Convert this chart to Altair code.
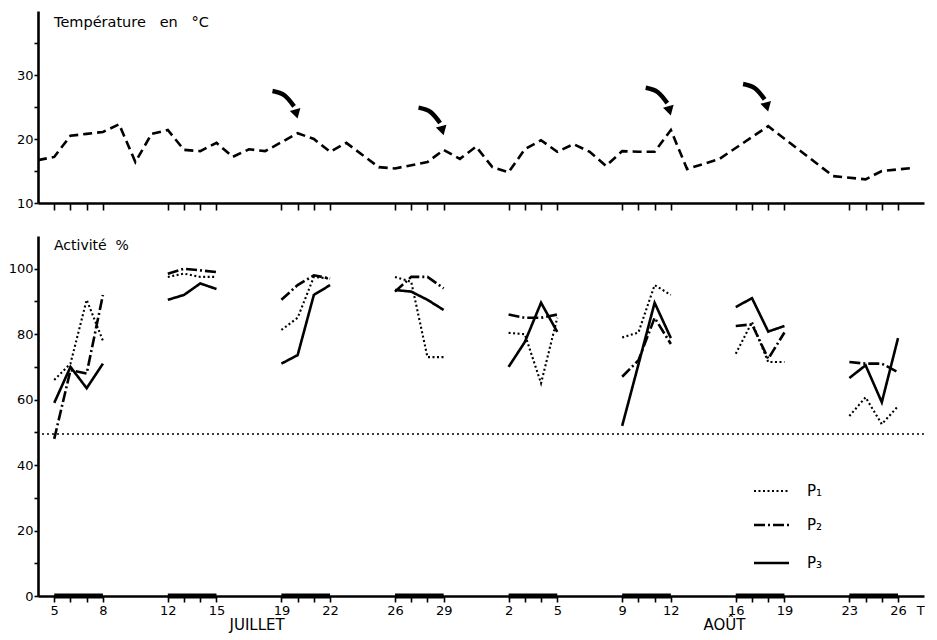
import altair as alt
import pandas as pd

# ---------------- data ----------------
# day index: 0 = 5 July, 26 = 31 July, 28 = 2 August ...
temp_days = [-1, 0, 1, 2, 3, 4, 5, 6, 7, 8, 9, 10, 11, 12, 13, 15, 16, 17, 18, 20,
             21, 23, 24, 25, 26, 27, 28, 29, 30, 31, 32, 33, 34, 35, 36, 37, 38, 39, 41, 44,
             48, 50, 51, 53]
temp_vals = [16.7, 17.2, 20.5, 20.8, 21.1, 22.3, 16.4, 20.8, 21.4, 18.3, 18.1, 19.4, 17.2, 18.4, 18.1, 20.9, 20.0, 18.0, 19.4, 15.6,
             15.4, 16.4, 18.3, 16.9, 18.8, 15.6, 14.8, 18.4, 19.8, 18.0, 19.2, 18.0, 15.8, 18.1, 18.0, 18.0, 21.4, 15.3, 16.9, 22.0,
             14.2, 13.7, 15.0, 15.5]

arrow_days = [15, 24, 38, 44]

act_days = [0, 1, 2, 3, 7, 8, 9, 10, 14, 15, 16, 17, 21, 22, 23, 24,
            28, 29, 30, 31, 35, 36, 37, 38, 42, 43, 44, 45, 49, 50, 51, 52]
act_group = [1, 1, 1, 1, 2, 2, 2, 2, 3, 3, 3, 3, 4, 4, 4, 4,
             5, 5, 5, 5, 6, 6, 6, 6, 7, 7, 7, 7, 8, 8, 8, 8]
p1 = [66, 71, 90.5, 78, 97.5, 98.5, 97.5, 97.5, 81.3, 85, 97.5, 97, 97.5, 96, 73, 73,
      80.4, 80, 65, 85, 79, 80.5, 95, 92, 74, 83.7, 71.5, 71.5, 55, 60.7, 52.5, 58]
p2 = [48, 69, 68, 92, 98.5, 100, 99.5, 99, 90.5, 95, 98, 97, 93, 97.5, 97.5, 94,
      86, 85, 85, 86, 67, 72, 85, 77, 82.5, 83, 72.5, 80.5, 71.5, 71, 71, 68.4]
p3 = [59, 70, 63.5, 71, 90.5, 92, 95.5, 93.8, 71, 73.6, 92, 95, 93.5, 93, 90.5, 87.4,
      70, 77.6, 89.6, 80.7, 52, 70.7, 89.6, 78.8, 88.3, 91, 80.8, 82.5, 66.6, 70.5, 59.2, 78.8]
series_names = ["P₁", "P₂", "P₃"]

threshold = 49.5
bar_start = [0, 7, 14, 21, 28, 35, 42, 49]
bar_end = [3, 10, 17, 24, 31, 38, 45, 52]

x_label_days = [0, 3, 7, 10, 14, 17, 21, 24, 28, 31, 35, 38, 42, 45, 49, 52]
x_label_text = ["5", "8", "12", "15", "19", "22", "26", "29", "2", "5", "9", "12", "16", "19", "23", "26"]
month_names = ["JUILLET", "AOÛT"]
month_days = [12.5, 41.3]
end_label = "T"
end_label_day = 53.4

# ---------------- layout / style ----------------
W = 886
H1 = 192
H2 = 360
X_DOMAIN = [-1, 53.6]
FONT = "DejaVu Sans"
INK = "black"
NB = "\u00a0"

xscale = alt.Scale(domain=X_DOMAIN, nice=False, zero=False)
tscale = alt.Scale(domain=[10, 40], nice=False, zero=False)
ascale = alt.Scale(domain=[0, 110], nice=False, zero=False)

axis_common = dict(title=None, grid=False, domainColor=INK, tickColor=INK,
                   domainWidth=2.6, tickWidth=1.6, labelColor=INK,
                   labelFont=FONT, labelFontSize=13)

top_x_axis = alt.Axis(values=act_days, labels=False, tickSize=7, **axis_common)
top_y_axis = alt.Axis(values=[10, 15, 20, 25, 30, 35], tickSize=4, labelPadding=1,
                      labelExpr="datum.value % 10 == 0 ? datum.label : ''", **axis_common)

lab_days_js = "[" + ",".join(str(d) for d in x_label_days) + "]"
lab_txt_js = "[" + ",".join("'" + t + "'" for t in x_label_text) + "]"
bot_x_axis = alt.Axis(values=act_days, tickSize=6, labelPadding=2, labelFlush=False,
                      labelExpr=f"indexof({lab_days_js}, datum.value) >= 0 ? {lab_txt_js}[indexof({lab_days_js}, datum.value)] : ''",
                      **axis_common)
bot_y_axis = alt.Axis(values=[0, 10, 20, 30, 40, 50, 60, 70, 80, 90, 100], tickSize=4, labelPadding=1,
                      labelExpr="datum.value % 20 == 0 ? datum.label : ''", **axis_common)

# ---------------- top panel: temperature ----------------
temp_df = pd.DataFrame({"day": temp_days, "temp": temp_vals})
temp_line = alt.Chart(temp_df).mark_line(color=INK, strokeDash=[9, 5], strokeWidth=2.6).encode(
    x=alt.X("day:Q", scale=xscale, axis=top_x_axis),
    y=alt.Y("temp:Q", scale=tscale, axis=top_y_axis),
)

lookup = dict(zip(temp_days, temp_vals))
ARROW_PATH = [(-1.55, 6.6), (-0.8, 5.9), (-0.22, 4.2)]
ARROW_HEAD = (-0.08, 3.0)
arrow_rows, head_rows = [], []
for i, d in enumerate(arrow_days):
    t = lookup[d]
    for k, (dx, dy) in enumerate(ARROW_PATH):
        arrow_rows.append({"id": i, "ord": k, "day": d + dx, "temp": t + dy})
    head_rows.append({"id": i, "day": d + ARROW_HEAD[0], "temp": t + ARROW_HEAD[1]})
arrow_df = pd.DataFrame(arrow_rows)
head_df = pd.DataFrame(head_rows)

arrow_lines = alt.Chart(arrow_df).mark_line(color=INK, strokeWidth=4.5, interpolate="monotone", strokeCap="butt").encode(
    x=alt.X("day:Q", scale=xscale, axis=top_x_axis),
    y=alt.Y("temp:Q", scale=tscale, axis=top_y_axis),
    detail="id:N",
    order="ord:Q",
)
arrow_heads = alt.Chart(head_df).mark_point(shape="triangle-down", filled=True, color=INK, size=120, angle=345, opacity=1).encode(
    x=alt.X("day:Q", scale=xscale, axis=top_x_axis),
    y=alt.Y("temp:Q", scale=tscale, axis=top_y_axis),
)
top_title = alt.Chart(pd.DataFrame({"t": ["Température" + NB * 3 + "en" + NB * 3 + "°C"]})).mark_text(
    align="left", baseline="middle", font=FONT, fontSize=14.5, color=INK
).encode(text="t:N", x=alt.value(16), y=alt.value(12))

top = alt.layer(temp_line, arrow_lines, arrow_heads, top_title).properties(width=W, height=H1)

# ---------------- bottom panel: activity ----------------
styles = {
    "P₁": dict(strokeDash=[2, 2.5], strokeWidth=2.1),
    "P₂": dict(strokeDash=[11, 3, 2, 3], strokeWidth=2.6),
    "P₃": dict(strokeDash=[1, 0], strokeWidth=2.6),
}
series_vals = dict(zip(series_names, [p1, p2, p3]))

layers = []
for name in series_names:
    df = pd.DataFrame({"day": act_days, "val": series_vals[name], "grp": act_group})
    layers.append(
        alt.Chart(df).mark_line(color=INK, **styles[name]).encode(
            x=alt.X("day:Q", scale=xscale, axis=bot_x_axis),
            y=alt.Y("val:Q", scale=ascale, axis=bot_y_axis),
            detail="grp:N",
        )
    )

bars_df = pd.DataFrame({"s": bar_start, "e": bar_end, "y": [0] * len(bar_start)})
bars = alt.Chart(bars_df).mark_rule(color=INK, strokeWidth=5).encode(
    x=alt.X("s:Q", scale=xscale, axis=bot_x_axis),
    x2="e:Q",
    y=alt.Y("y:Q", scale=ascale, axis=bot_y_axis),
)

thr = alt.Chart(pd.DataFrame({"v": [threshold]})).mark_rule(color=INK, strokeDash=[2, 3], strokeWidth=1.5).encode(
    y=alt.Y("v:Q", scale=ascale, axis=bot_y_axis)
)

bot_title = alt.Chart(pd.DataFrame({"t": ["Activité" + NB * 2 + "%"]})).mark_text(
    align="left", baseline="middle", font=FONT, fontSize=14, color=INK
).encode(text="t:N", x=alt.value(16), y=alt.value(10))

# legend (custom)
LEG_X0, LEG_X1, LEG_TX = 716, 751, 769
LEG_Y = [255, 289, 327]
legend_layers = []
for name, ly in zip(series_names, LEG_Y):
    legend_layers.append(
        alt.Chart(pd.DataFrame({"n": [name]})).mark_rule(color=INK, **styles[name]).encode(
            x=alt.value(LEG_X0), x2=alt.value(LEG_X1), y=alt.value(ly)
        )
    )
    legend_layers.append(
        alt.Chart(pd.DataFrame({"n": [name]})).mark_text(
            align="left", baseline="middle", font=FONT, fontSize=15, color=INK
        ).encode(text="n:N", x=alt.value(LEG_TX), y=alt.value(ly))
    )

months = alt.Chart(pd.DataFrame({"m": month_names, "day": month_days})).mark_text(
    align="center", baseline="middle", font=FONT, fontSize=15, color=INK
).encode(x=alt.X("day:Q", scale=xscale, axis=bot_x_axis), text="m:N", y=alt.value(H2 + 29))

tlabel = alt.Chart(pd.DataFrame({"m": [end_label], "day": [end_label_day]})).mark_text(
    align="center", baseline="middle", font=FONT, fontSize=13, color=INK
).encode(x=alt.X("day:Q", scale=xscale, axis=bot_x_axis), text="m:N", y=alt.value(H2 + 15))

bottom = alt.layer(*layers, bars, thr, bot_title, *legend_layers, months, tlabel).properties(width=W, height=H2)

chart = alt.vconcat(top, bottom, spacing=25).properties(
    padding={"left": 0, "top": 3, "right": 0, "bottom": 0},
    background="white",
).configure_view(stroke=None)

chart.save("out.html", embed_options={"renderer": "svg", "actions": False})
